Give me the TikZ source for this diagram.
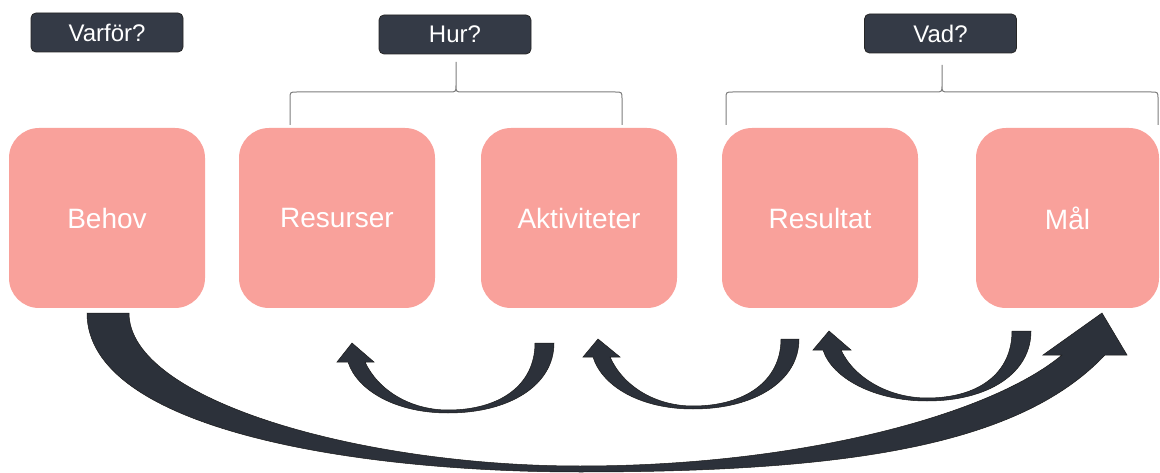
\documentclass[tikz,border=0pt]{standalone}
\usepackage{fontspec}
\setmainfont{Liberation Sans}
\usepackage{tikz}

\definecolor{boxpink}{RGB}{249,161,155}
\definecolor{tagdark}{RGB}{52,58,70}
\definecolor{arrowdark}{RGB}{44,49,58}
\definecolor{bracegray}{RGB}{125,125,125}

\tikzset{
  stage/.style={fill=boxpink, rounded corners=30pt, minimum width=196pt, minimum height=180pt,
    inner sep=0pt, text=white, font=\fontsize{28}{34}\selectfont},
  question/.style={fill=tagdark, draw=black!85, line width=0.8pt, rounded corners=5pt,
    minimum width=152pt, minimum height=39pt, inner sep=0pt, text=white, font=\fontsize{24}{28}\selectfont},
  curvearrow/.style={fill=arrowdark, draw=black!90, line width=0.5pt},
  bracefine/.style={draw=bracegray, line width=1pt}
}

\begin{document}
\begin{tikzpicture}[x=1pt,y=-1pt]
\useasboundingbox (0,0) rectangle (1160,473);

% Logic model steps
\node[stage] (behov) at (107,218) {Behov};
\node[stage] (resurser) at (337,218) {Resurser};
\node[stage] (aktiviteter) at (579,218) {Aktiviteter};
\node[stage] (resultat) at (820,218) {Resultat};
\node[stage, minimum width=183pt] (mal) at (1067.5,218) {Mål};

% Question tags
\node[question] (varfor) at (107,32.5) {Varför?};
\node[question] (hur) at (455,34.5) {Hur?};
\node[question] (vad) at (940.5,33.5) {Vad?};

% Braces under the tags
\draw[bracefine] (290,125) -- (290,99) .. controls (290,92) .. (297,92) -- (449,92)
  .. controls (456,92) .. (456,85) -- (456,62)
  (456,85) .. controls (456,92) .. (463,92) -- (615,92) .. controls (622,92) .. (622,99) -- (622,125);
\draw[bracefine] (726,125) -- (726,99) .. controls (726,92) .. (733,92) -- (935,92)
  .. controls (942,92) .. (942,85) -- (942,65)
  (942,85) .. controls (942,92) .. (949,92) -- (1151,92) .. controls (1158,92) .. (1158,99) -- (1158,125);

% Small loops back to the previous step
\draw[curvearrow] (554,343) .. controls (554,385) and (510,413) .. (448,413)
  .. controls (395,413) and (357,390) .. (348,362) -- (337,362) -- (352,343) -- (374,362) -- (365,362)
  .. controls (378,390) and (410,410) .. (448,410) .. controls (500,410) and (535,385) .. (535,343) -- cycle;
\draw[curvearrow] (799,339) .. controls (799,381) and (755,409) .. (693,409)
  .. controls (640,409) and (602,386) .. (593,357) -- (583,357) -- (598,339) -- (620,357) -- (610,357)
  .. controls (623,386) and (655,406) .. (693,406) .. controls (745,406) and (781,381) .. (781,339) -- cycle;
\draw[curvearrow] (1031,331) .. controls (1031,373) and (989,401) .. (927,401)
  .. controls (874,401) and (832,378) .. (823,350) -- (813,350) -- (829,331) -- (851,350) -- (841,350)
  .. controls (854,378) and (889,398) .. (927,398) .. controls (979,398) and (1012,373) .. (1012,331) -- cycle;

% Long arrow from Behov to Mål
\draw[curvearrow] (87,313) .. controls (87,428) and (350,472) .. (580,472)
  .. controls (850,472) and (1020,445) .. (1105,355) -- (1127,355) -- (1102,313) -- (1043,355) -- (1062,355)
  .. controls (990,415) and (800,466) .. (580,466) .. controls (360,466) and (129,400) .. (129,313) -- cycle;
\end{tikzpicture}
\end{document}
